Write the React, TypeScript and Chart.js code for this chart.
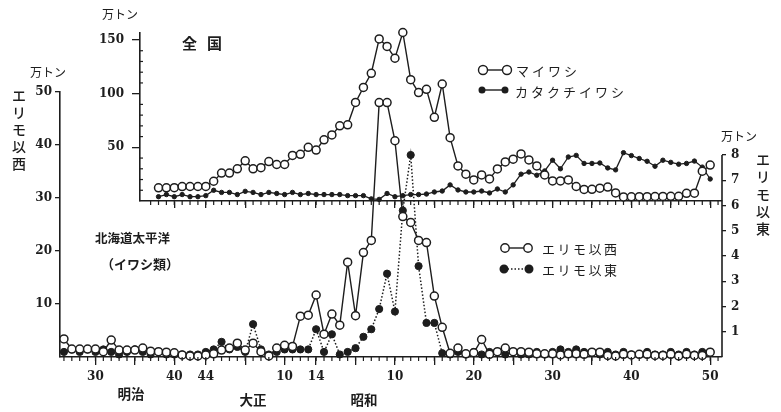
import React, { useEffect, useRef } from 'react';
import { Chart, registerables } from 'chart.js';

Chart.register(...registerables);

const INK = '#1d1d1d';
const NUM_FONT = { family: '"DejaVu Serif", serif', size: 12, weight: 'bold' as const };
const JP = '"Noto Sans CJK JP", "Noto Sans", sans-serif';

// layout (pixels)
const W = 781;
const H = 412;
const MAIN_LEFT = 60;
const INSET_LEFT = 140;
const PLOT_RIGHT = 722;
const MAIN_TOP = 92;
const MAIN_BOTTOM = 357;
const INSET_TOP = 33;
const INSET_BOTTOM = 201;

// x range (years)
const X_MIN = 1892.5;
const X_MAX = 1976.5;

// 北海道太平洋 (イワシ類)  1893–1975
const MAIN_START = 1893;
const WEST = [
  3.4, 1.5, 1.5, 1.5, 1.5, 1.0, 3.2, 1.3, 1.3, 1.3,
  1.7, 1.1, 1.0, 0.9, 0.8, 0.4, 0.2, 0.2, 0.4, 0.6,
  1.3, 1.7, 2.6, 1.3, 2.6, 1.0, 0.2, 1.7, 2.2, 2.0,
  7.7, 7.9, 11.7, 4.3, 8.1, 6.0, 17.9, 7.8, 19.7, 22.0,
  48.0, 48.0, 40.8, 26.5, 25.4, 22.0, 21.6, 11.5, 5.6, 0.7,
  1.7, 0.6, 0.8, 3.3, 0.5, 1.0, 1.7, 1.0, 1.0, 0.9,
  0.6, 0.6, 0.6, 0.4, 0.6, 0.6, 0.5, 0.9, 0.9, 0.3,
  0.2, 0.5, 0.4, 0.5, 0.5, 0.3, 0.3, 0.5, 0.2, 0.5,
  0.3, 0.3, 0.9,
];
const EAST = [
  0.2, 0.3, 0.2, 0.3, 0.2, 0.3, 0.2, 0.1, 0.2, 0.3,
  0.2, 0.1, 0.2, 0.1, 0.1, 0.1, 0.1, 0.1, 0.2, 0.3,
  0.6, 0.3, 0.4, 0.2, 1.3, 0.3, 0.1, 0.2, 0.3, 0.3,
  0.3, 0.3, 1.1, 0.2, 0.9, 0.1, 0.2, 0.35, 0.8, 1.1,
  1.9, 3.3, 1.8, 5.8, 8.0, 3.6, 1.35, 1.35, 0.15, 0.1,
  0.2, 0.1, 0.2, 0.1, 0.2, 0.2, 0.1, 0.2, 0.1, 0.1,
  0.2, 0.1, 0.2, 0.3, 0.2, 0.3, 0.2, 0.2, 0.1, 0.2,
  0.1, 0.2, 0.1, 0.1, 0.2, 0.1, 0.1, 0.2, 0.1, 0.2,
  0.1, 0.2, 0.2,
];

// 全国  1905–1975
const INSET_START = 1905;
const MAIWASHI = [
  12.3, 12.3, 12.4, 13.4, 13.5, 13.5, 13.6, 18.4, 26, 26,
  30, 37.4, 30, 31, 36.7, 34, 34, 42.5, 43.5, 50,
  47.5, 57, 61.6, 70, 71, 91.8, 105.8, 119, 151, 144,
  133, 157, 113, 101, 104, 78, 109, 59, 32.7, 25,
  19.6, 24.3, 20.6, 29.9, 36.4, 39, 43.9, 38.3, 32.7, 24.3,
  18.7, 18.7, 19.6, 13.5, 10.8, 10.9, 11.9, 13, 7.5, 3.8,
  3.9, 4, 4, 4.2, 4.3, 4.4, 4.4, 7.2, 7.3, 27.8,
  33.5,
];
const KATAKUCHI = [
  4, 6, 4, 6, 4, 4, 5, 10, 8, 8,
  6, 9, 8, 6, 8, 7, 6, 8, 6, 7,
  6, 6, 6, 6, 5, 5, 5, 2, 1.5, 7,
  4, 5, 6, 6, 6.5, 8.4, 9.3, 15, 10.3, 8.4,
  8.4, 9.3, 7.5, 11.2, 8.4, 15, 25, 27, 24, 28,
  38, 30, 41, 42.5, 35, 35, 35.4, 30.8, 29, 45,
  42.3, 39.6, 37, 32.4, 38, 36, 34.3, 35, 37.2, 31.6,
  20.5,
];

const X_MAJOR_TICKS = [1897, 1902, 1907, 1911, 1916, 1921, 1925, 1930, 1935, 1940, 1945, 1950, 1955, 1960, 1965, 1970, 1975];
const X_TICK_LABELS: Record<number, string> = {
  1897: '30', 1907: '40', 1911: '44', 1921: '10', 1925: '14',
  1935: '10', 1945: '20', 1955: '30', 1965: '40', 1975: '50',
};
const WEST_TICKS = [10, 20, 30, 40, 50];
const EAST_TICKS = [1, 2, 3, 4, 5, 6, 7, 8];
const INSET_TICKS = [50, 100, 150];
const INSET_MINOR_TICKS = [10, 20, 30, 40, 60, 70, 80, 90, 110, 120, 130, 140];

const toPoints = (start: number, values: number[]) => values.map((v, i) => ({ x: start + i, y: v }));

const pxPerYear = (PLOT_RIGHT - MAIN_LEFT) / (X_MAX - X_MIN);
const INSET_X_MIN = X_MIN + (INSET_LEFT - MAIN_LEFT) / pxPerYear;

function line(ctx: CanvasRenderingContext2D, x1: number, y1: number, x2: number, y2: number) {
  ctx.beginPath();
  ctx.moveTo(x1, y1);
  ctx.lineTo(x2, y2);
  ctx.stroke();
}
function circle(ctx: CanvasRenderingContext2D, x: number, y: number, r: number, filled: boolean) {
  ctx.beginPath();
  ctx.arc(x, y, r, 0, Math.PI * 2);
  ctx.fillStyle = filled ? INK : '#fff';
  ctx.fill();
  ctx.stroke();
}

const mainDecor = {
  id: 'mainDecor',
  afterDraw(chart: any) {
    const ctx = chart.ctx as CanvasRenderingContext2D;
    const x = chart.scales.x;
    const yR = chart.scales.yR;
    const { bottom, right } = chart.chartArea;
    ctx.save();
    ctx.strokeStyle = INK;
    ctx.lineWidth = 1.2;
    for (let yr = Math.ceil(x.min); yr <= x.max; yr++) {
      const px = x.getPixelForValue(yr);
      line(ctx, px, bottom, px, bottom + 4);
    }
    ctx.lineWidth = 1.6;
    line(ctx, right, yR.getPixelForValue(0), right, yR.getPixelForValue(8));
    // legend
    ctx.lineWidth = 1.4;
    line(ctx, 505, 248, 528, 248);
    circle(ctx, 505, 248, 4.2, false);
    circle(ctx, 528, 248, 4.2, false);
    ctx.setLineDash([1.5, 2]);
    line(ctx, 504, 269, 529, 269);
    ctx.setLineDash([]);
    circle(ctx, 504, 269, 3.8, true);
    circle(ctx, 529, 269, 3.8, true);
    ctx.restore();
  },
};

const insetDecor = {
  id: 'insetDecor',
  afterDraw(chart: any) {
    const ctx = chart.ctx as CanvasRenderingContext2D;
    const x = chart.scales.x;
    const y = chart.scales.y;
    const { bottom, left } = chart.chartArea;
    ctx.save();
    ctx.strokeStyle = INK;
    ctx.lineWidth = 1.2;
    for (let yr = Math.ceil(x.min) + 1; yr <= x.max; yr++) {
      const px = x.getPixelForValue(yr);
      line(ctx, px, bottom, px, bottom + 4);
    }
    INSET_MINOR_TICKS.forEach((v) => {
      const py = y.getPixelForValue(v);
      line(ctx, left, py, left + 3, py);
    });
    // legend
    ctx.lineWidth = 1.4;
    line(ctx, 483, 70, 507, 70);
    circle(ctx, 483, 70, 4.5, false);
    circle(ctx, 507, 70, 4.5, false);
    line(ctx, 482, 90, 505, 90);
    circle(ctx, 482, 90, 2.8, true);
    circle(ctx, 505, 90, 2.8, true);
    ctx.restore();
  },
};

const axisGrid = (tickLength: number) => ({
  drawOnChartArea: false,
  drawTicks: true,
  tickLength,
  color: INK,
  lineWidth: 1.3,
});

type LabelProps = {
  x: number; y: number; text: string; size?: number; weight?: number;
  start?: boolean; spacing?: number; family?: string;
};
const Label = ({ x, y, text, size = 13, weight = 400, start = false, spacing = 0, family = JP }: LabelProps) => (
  <div
    style={{
      position: 'absolute', left: x, top: y,
      transform: `translate(${start ? '0' : '-50%'}, -50%)`,
      fontSize: size, fontWeight: weight, fontFamily: family,
      letterSpacing: spacing, whiteSpace: 'nowrap', color: INK, lineHeight: 1,
    }}
  >
    {text}
  </div>
);

const VText = ({ x, ys, text, size = 14 }: { x: number; ys: number[]; text: string; size?: number }) => (
  <>
    {Array.from(text).map((ch, i) => (
      <Label key={i} x={x} y={ys[i]} text={ch} size={size} weight={500} />
    ))}
  </>
);

export default function App() {
  const mainRef = useRef<HTMLCanvasElement>(null);
  const insetRef = useRef<HTMLCanvasElement>(null);

  useEffect(() => {
    const inset = new Chart(insetRef.current!, {
      type: 'line',
      data: {
        datasets: [
          {
            label: 'マイワシ',
            data: toPoints(INSET_START, MAIWASHI),
            borderColor: INK, borderWidth: 1.4,
            pointRadius: 4, pointBorderWidth: 1.5,
            pointBackgroundColor: '#fff', pointBorderColor: INK,
            clip: false,
          } as any,
          {
            label: 'カタクチイワシ',
            data: toPoints(INSET_START, KATAKUCHI),
            borderColor: INK, borderWidth: 1.3,
            pointRadius: 2.2, pointBorderWidth: 1,
            pointBackgroundColor: INK, pointBorderColor: INK,
            clip: false,
          } as any,
        ],
      },
      options: {
        responsive: false,
        animation: false,
        devicePixelRatio: 1,
        layout: { padding: { top: INSET_TOP, right: W - PLOT_RIGHT, left: 0, bottom: 0 } },
        plugins: { legend: { display: false }, tooltip: { enabled: false } },
        scales: {
          x: {
            type: 'linear', min: INSET_X_MIN, max: X_MAX,
            afterBuildTicks: (s: any) => { s.ticks = X_MAJOR_TICKS.filter((v) => v > INSET_X_MIN).map((v) => ({ value: v })); },
            afterFit: (s: any) => { s.height = H - INSET_BOTTOM; },
            ticks: { autoSkip: false, maxRotation: 0, font: NUM_FONT, color: INK, padding: 0, callback: () => '' },
            grid: axisGrid(7),
            border: { display: true, color: INK, width: 1.6 },
          },
          y: {
            min: 0, max: (INSET_BOTTOM - INSET_TOP) / ((INSET_BOTTOM - 40) / 150),
            afterBuildTicks: (s: any) => { s.ticks = INSET_TICKS.map((v) => ({ value: v })); },
            afterFit: (s: any) => { s.width = INSET_LEFT; },
            ticks: { font: NUM_FONT, color: INK, padding: 8, callback: (v: any) => String(v) },
            grid: axisGrid(8),
            border: { display: true, color: INK, width: 1.6 },
          },
        },
      } as any,
      plugins: [insetDecor],
    });

    const main = new Chart(mainRef.current!, {
      type: 'line',
      data: {
        datasets: [
          {
            label: 'エリモ以西',
            data: toPoints(MAIN_START, WEST),
            yAxisID: 'yL',
            borderColor: INK, borderWidth: 1.4,
            pointRadius: 4, pointBorderWidth: 1.5,
            pointBackgroundColor: '#fff', pointBorderColor: INK,
            clip: false,
          } as any,
          {
            label: 'エリモ以東',
            data: toPoints(MAIN_START, EAST),
            yAxisID: 'yR',
            borderColor: INK, borderWidth: 1.5, borderDash: [1.5, 2],
            pointRadius: 3.6, pointBorderWidth: 1,
            pointBackgroundColor: INK, pointBorderColor: INK,
            clip: false,
          } as any,
        ],
      },
      options: {
        responsive: false,
        animation: false,
        devicePixelRatio: 1,
        layout: { padding: { top: MAIN_TOP, right: 0, left: 0, bottom: 0 } },
        plugins: { legend: { display: false }, tooltip: { enabled: false } },
        scales: {
          x: {
            type: 'linear', min: X_MIN, max: X_MAX,
            afterBuildTicks: (s: any) => { s.ticks = X_MAJOR_TICKS.map((v) => ({ value: v })); },
            afterFit: (s: any) => { s.height = H - MAIN_BOTTOM; },
            ticks: {
              autoSkip: false, maxRotation: 0, font: NUM_FONT, color: INK, padding: 5,
              callback: (v: any) => X_TICK_LABELS[v as number] ?? '',
            },
            grid: axisGrid(8),
            border: { display: true, color: INK, width: 1.6 },
          },
          yL: {
            position: 'left', min: 0, max: 50,
            afterBuildTicks: (s: any) => { s.ticks = WEST_TICKS.map((v) => ({ value: v })); },
            afterFit: (s: any) => { s.width = MAIN_LEFT; },
            ticks: { font: NUM_FONT, color: INK, padding: 3, callback: (v: any) => String(v) },
            grid: axisGrid(5),
            border: { display: true, color: INK, width: 1.6 },
          },
          yR: {
            position: 'right', min: 0, max: (MAIN_BOTTOM - MAIN_TOP) / ((MAIN_BOTTOM - 155) / 8),
            afterBuildTicks: (s: any) => { s.ticks = EAST_TICKS.map((v) => ({ value: v })); },
            afterFit: (s: any) => { s.width = W - PLOT_RIGHT; },
            ticks: { font: NUM_FONT, color: INK, padding: 5, callback: (v: any) => String(v) },
            grid: axisGrid(4),
            border: { display: false },
          },
        },
      } as any,
      plugins: [mainDecor],
    });

    return () => {
      main.destroy();
      inset.destroy();
    };
  }, []);

  return (
    <div style={{ position: 'absolute', left: 0, top: 0, width: W, height: H, background: '#fff', overflow: 'hidden' }}>
      <canvas ref={insetRef} width={W} height={H} style={{ position: 'absolute', left: 0, top: 0 }} />
      <canvas ref={mainRef} width={W} height={H} style={{ position: 'absolute', left: 0, top: 0 }} />

      <Label x={120} y={14} text="万トン" size={12} />
      <Label x={207} y={42} text="全国" size={15} weight={700} spacing={10} />
      <Label x={516} y={70} text="マイワシ" size={13} spacing={3} start />
      <Label x={515} y={91} text="カタクチイワシ" size={13} spacing={3} start />

      <Label x={48} y={72} text="万トン" size={12} />
      <VText x={19} ys={[95, 112, 129, 146, 163]} text="エリモ以西" />
      <Label x={739} y={136} text="万トン" size={12} />
      <VText x={763} ys={[159, 176, 194, 211, 228]} text="エリモ以東" />

      <Label x={95} y={238} text="北海道太平洋" size={12.5} weight={700} start />
      <Label x={101} y={263} text="（イワシ類）" size={13} weight={700} start />

      <Label x={542} y={248} text="エリモ以西" size={13} spacing={2.5} start />
      <Label x={542} y={269} text="エリモ以東" size={13} spacing={2.5} start />

      <Label x={131} y={394} text="明治" size={13.5} weight={700} />
      <Label x={253} y={400} text="大正" size={13.5} weight={700} />
      <Label x={364} y={400} text="昭和" size={13.5} weight={700} />
    </div>
  );
}
